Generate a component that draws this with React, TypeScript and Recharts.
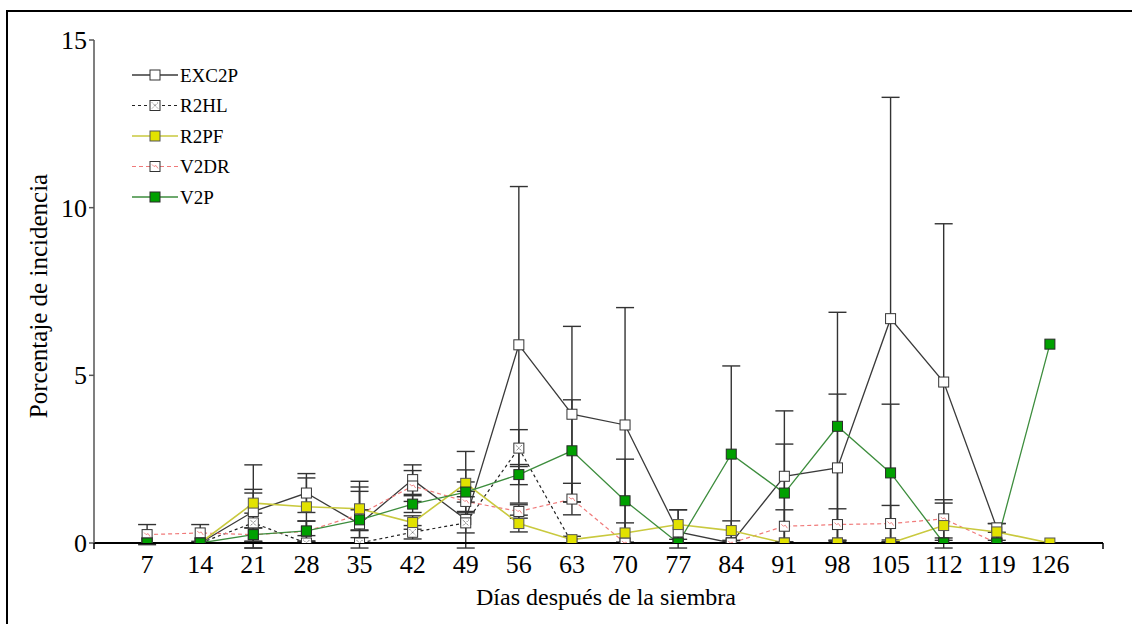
import React from "react";
import { LineChart, Line, XAxis, YAxis, ErrorBar } from "recharts";

const DAYS = [7, 14, 21, 28, 35, 42, 49, 56, 63, 70, 77, 84, 91, 98, 105, 112, 119, 126];
const X_TICKS = [0, ...DAYS, 133];
const Y_TICKS = [0, 5, 10, 15];

const EXC2P = [0, 0, 0.94, 1.49, 0.57, 1.89, 0.7, 5.91, 3.84, 3.52, 0.33, 0, 1.99, 2.24, 6.69, 4.8, 0.45, null];
const EXC2P_SD = [null, null, 1.39, 0.58, 1.27, 0.44, 2.03, 4.72, 2.62, 3.5, 0.66, null, 1.95, 2.2, 6.6, 4.72, 0.13, null];

const R2HL = [0, 0, 0.6, 0, 0, 0.32, 0.6, 2.83, 0, 0, 0, 0, 0, 0, 0, 0, 0, null];
const R2HL_SD = [null, null, 1.0, null, null, 0.2, 0.3, 0.55, null, null, null, null, null, null, null, null, null, null];

const R2PF = [0, 0, 1.19, 1.08, 1.02, 0.61, 1.78, 0.58, 0.1, 0.3, 0.55, 0.37, 0, 0, 0, 0.52, 0.33, 0];
const R2PF_SD = [null, null, 0.3, 0.86, 0.65, 0.2, 0.4, 0.25, 0.1, 0.3, 0.44, 0.29, null, null, null, 0.67, 0.25, null];

const V2DR = [0.25, 0.3, 0.25, 0.35, 0.85, 1.7, 1.24, 0.94, 1.31, 0, 0, 0, 0.5, 0.55, 0.58, 0.72, 0, null];
const V2DR_SD = [0.3, 0.25, 0.2, 0.3, 0.69, 0.46, 0.3, 0.2, 0.47, null, null, null, 0.49, 0.47, 0.54, 0.57, null, null];

const V2P = [0, 0, 0.25, 0.36, 0.69, 1.16, 1.52, 2.04, 2.75, 1.26, 0, 2.65, 1.49, 3.48, 2.09, 0, 0, 5.93];
const V2P_SD = [null, null, 0.2, 0.3, 0.3, 0.25, 0.3, 0.3, 1.52, 1.24, null, 2.63, 1.46, 3.4, 2.05, null, null, null];

// error bars stop a hair below zero, like the original
const err = (v: number | null, sd: number | null) =>
  v == null || sd == null ? null : [Math.min(sd, v + 0.15), sd];

const data = DAYS.map((day, i) => ({
  day,
  exc: EXC2P[i],
  excSd: err(EXC2P[i], EXC2P_SD[i]),
  r2hl: R2HL[i],
  r2hlSd: err(R2HL[i], R2HL_SD[i]),
  r2pf: R2PF[i],
  r2pfSd: err(R2PF[i], R2PF_SD[i]),
  v2dr: V2DR[i],
  v2drSd: err(V2DR[i], V2DR_SD[i]),
  v2p: V2P[i],
  v2pSd: err(V2P[i], V2P_SD[i]),
}));

const SERIES = [
  { key: "exc", name: "EXC2P", kind: "open", stroke: "#3a3a3a", dash: undefined, width: 1.3 },
  { key: "r2hl", name: "R2HL", kind: "cross", stroke: "#222", dash: "3 3", width: 1.2 },
  { key: "v2dr", name: "V2DR", kind: "pink", stroke: "#f07a7a", dash: "4 3", width: 1.2 },
  { key: "r2pf", name: "R2PF", kind: "yellow", stroke: "#c9c93e", dash: undefined, width: 1.6 },
  { key: "v2p", name: "V2P", kind: "green", stroke: "#3d8d3d", dash: undefined, width: 1.3 },
];
const LEGEND_ORDER = ["exc", "r2hl", "r2pf", "v2dr", "v2p"];

const FONT = '"Liberation Serif", "Times New Roman", "DejaVu Serif", serif';
const txt = { fontFamily: FONT };

const Marker = ({ kind, cx, cy }: { kind: string; cx: number; cy: number }) => {
  const s = 10;
  const x = cx - s / 2;
  const y = cy - s / 2;
  if (kind === "yellow")
    return <rect x={x} y={y} width={s} height={s} fill="#e2e200" stroke="#555" strokeWidth={1} />;
  if (kind === "green")
    return <rect x={x} y={y} width={s} height={s} fill="#00a000" stroke="#2a2a2a" strokeWidth={1} />;
  return (
    <g>
      <rect x={x} y={y} width={s} height={s} fill="#fff" stroke="#333" strokeWidth={1} />
      {kind === "cross" && (
        <g stroke="#555" strokeWidth={1} strokeDasharray="1 1">
          <line x1={x + 2} y1={y + 2} x2={x + s - 2} y2={y + s - 2} />
          <line x1={x + s - 2} y1={y + 2} x2={x + 2} y2={y + s - 2} />
        </g>
      )}
      {kind === "pink" && (
        <path
          d={`M${x + 2},${y + 3} L${x + 4},${y + 5} L${x + 6},${y + 4} L${x + 8},${y + 7}`}
          stroke="#f08a8a"
          strokeWidth={1}
          fill="none"
        />
      )}
    </g>
  );
};

const makeDot = (kind: string) => (props: any) => {
  const { cx, cy, value, index } = props;
  if (cx == null || cy == null || value == null) return <g key={`d-${kind}-${index}`} />;
  return (
    <g key={`d-${kind}-${index}`}>
      <Marker kind={kind} cx={cx} cy={cy} />
    </g>
  );
};

const XTick = (props: any) => {
  const { x, y, payload } = props;
  if (payload.value === 0 || payload.value === 133) {
    return <line x1={x} x2={x} y1={y} y2={y + 6} stroke="#000" strokeWidth={1.5} />;
  }
  return (
    <text x={x} y={y + 30} textAnchor="middle" style={txt} fontSize={26} fill="#000">
      {payload.value}
    </text>
  );
};

const YTick = (props: any) => {
  const { x, y, payload } = props;
  return (
    <text x={x} y={y} dy="0.35em" textAnchor="end" style={txt} fontSize={26} fill="#000">
      {payload.value}
    </text>
  );
};

const LegendBox = () => (
  <svg width={200} height={160}>
    {LEGEND_ORDER.map((k, i) => {
      const s = SERIES.find((d) => d.key === k)!;
      const y = 15 + i * 30.5;
      return (
        <g key={k}>
          <line x1={7} x2={53} y1={y} y2={y} stroke={s.stroke} strokeWidth={s.width} strokeDasharray={s.dash} />
          <Marker kind={s.kind} cx={30} cy={y} />
          <text x={55} y={y} dy="0.35em" style={txt} fontSize={19} fill="#000">
            {s.name}
          </text>
        </g>
      );
    })}
  </svg>
);

export default function App() {
  return (
    <div style={{ position: "absolute", left: 0, top: 0, width: 1132, height: 624, overflow: "hidden", background: "#fff" }}>
      <div
        style={{
          position: "absolute",
          left: 6,
          top: 10,
          width: 1200,
          height: 700,
          borderTop: "2px solid #000",
          borderLeft: "2px solid #000",
        }}
      />
      <div style={{ position: "absolute", left: 0, top: 0 }}>
        <LineChart width={1132} height={624} data={data} margin={{ top: 40, right: 29, bottom: 21, left: 0 }}>
          <XAxis
            dataKey="day"
            type="number"
            domain={[0, 133]}
            ticks={X_TICKS}
            interval={0}
            allowDataOverflow
            axisLine={{ stroke: "#000", strokeWidth: 2 }}
            tickLine={false}
            tickSize={0}
            tickMargin={0}
            height={60}
            tick={<XTick />}
            label={{
              content: () => (
                <text x={606} y={605} textAnchor="middle" style={txt} fontSize={24} fill="#000">
                  Días después de la siembra
                </text>
              ),
            }}
          />
          <YAxis
            type="number"
            domain={[0, 15]}
            ticks={Y_TICKS}
            allowDataOverflow
            width={94}
            axisLine={{ stroke: "#555", strokeWidth: 1.5 }}
            tickLine={{ stroke: "#555", strokeWidth: 1.5 }}
            tickSize={5}
            tickMargin={2}
            tick={<YTick />}
            label={{
              content: () => (
                <text
                  x={38}
                  y={296}
                  transform="rotate(-90 38 296)"
                  textAnchor="middle"
                  dominantBaseline="central"
                  style={txt}
                  fontSize={25}
                  fill="#000"
                >
                  Porcentaje de incidencia
                </text>
              ),
            }}
          />
          {SERIES.map((s) => (
            <Line
              key={s.key}
              type="linear"
              dataKey={s.key}
              name={s.name}
              stroke={s.stroke}
              strokeWidth={s.width}
              strokeDasharray={s.dash}
              dot={makeDot(s.kind)}
              activeDot={false}
              isAnimationActive={false}
            >
              <ErrorBar dataKey={`${s.key}Sd`} direction="y" width={9} stroke="#333" strokeWidth={1.4} />
            </Line>
          ))}
        </LineChart>
      </div>
      <div style={{ position: "absolute", left: 125, top: 60 }}>
        <LegendBox />
      </div>
    </div>
  );
}
